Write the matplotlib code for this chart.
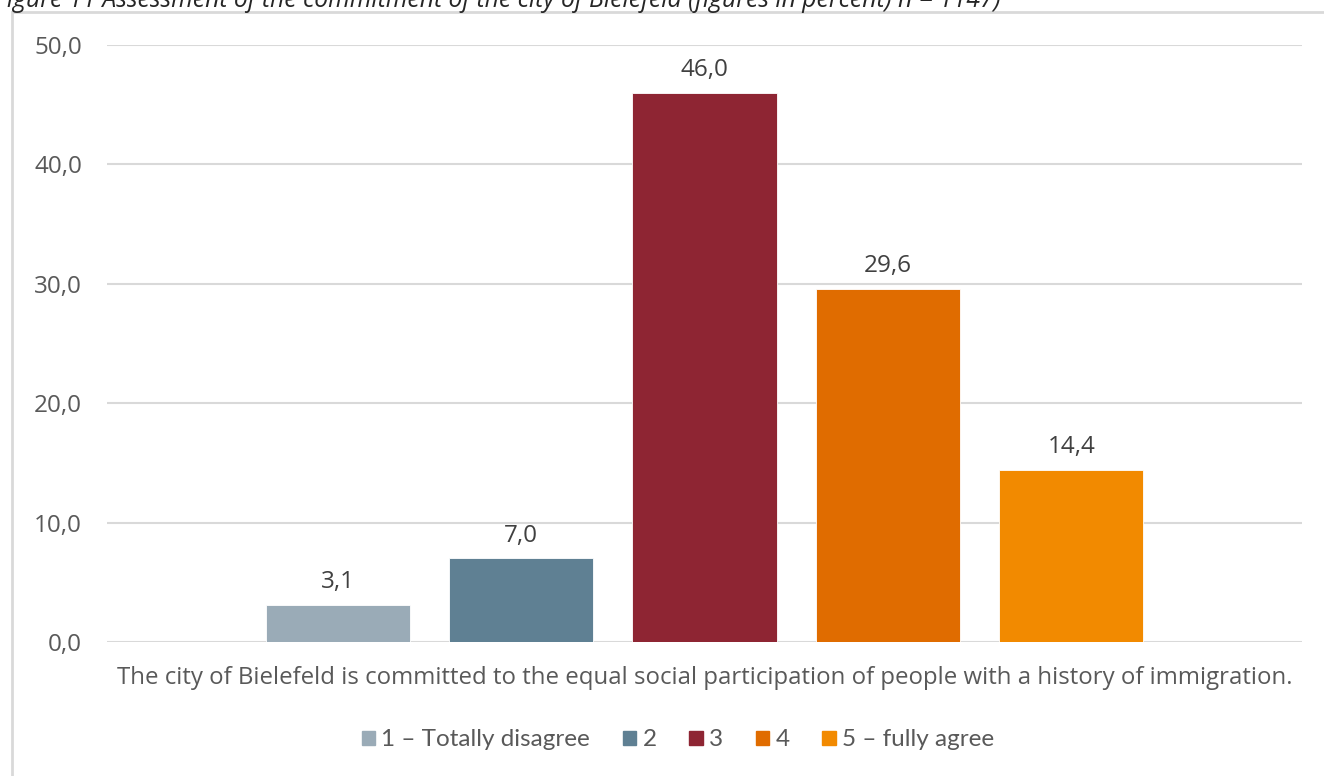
import matplotlib.pyplot as plt
from matplotlib.patches import Rectangle

categories = ['1 – Totally disagree', '2', '3', '4', '5 – fully agree']
values = [3.1, 7.0, 46.0, 29.6, 14.4]
colors = ['#9aabb7', '#5f8093', '#8e2533', '#e06c00', '#f28a00']
yticks = [0, 10, 20, 30, 40, 50]
statement = ('The city of Bielefeld is committed to the equal social '
             'participation of people with a history of immigration.')
caption = ('Figure 11 Assessment of the commitment of the city of Bielefeld '
           '(figures in percent) n = 1147)')

plt.rcParams['font.family'] = ['Open Sans', 'DejaVu Sans']
txt = '#595959'

fig = plt.figure(figsize=(13.24, 7.76), dpi=100)
W, H = 1324, 776

# chart frame
fig.patches.append(Rectangle((12 / W, -0.1), 1.2, (H - 12) / H + 0.1,
                             transform=fig.transFigure, fill=False,
                             edgecolor='#d9d9d9', linewidth=2))
fig.text(-0.004, (H - 7) / H, caption, ha='left', va='baseline',
         style='italic', fontsize=17.8, color='#262626')

ax = fig.add_axes([107 / W, 134 / H, (1302 - 107) / W, (642 - 45) / H])
x = list(range(len(values)))
bars = ax.bar(x, values, width=0.785, color=colors, edgecolor='white',
              linewidth=0.6, zorder=3, label=categories)
for b, v in zip(bars, values):
    ax.text(b.get_x() + b.get_width() / 2, v + 0.9, f'{v:.1f}'.replace('.', ','),
            ha='center', va='bottom', fontsize=17.5, color='#404040')

ax.set_xlim(-1.257, 4 + 1.257)
ax.set_ylim(0, 50)
ax.set_yticks(yticks)
ax.set_yticklabels([f'{t:.1f}'.replace('.', ',') for t in yticks])
ax.grid(axis='y', color='#d9d9d9', linewidth=1.5, zorder=0)
ax.set_xticks([])
for s in ax.spines.values():
    s.set_visible(False)
ax.tick_params(axis='y', length=0, pad=18, labelsize=17.5, labelcolor=txt)

fig.text((107 + 1302) / 2 / W, (H - 678) / H, statement, ha='center',
         va='center', fontsize=17.3, color=txt)

handles = [Rectangle((0, 0), 1, 1, color=c) for c in colors]
fig.legend(handles, categories, loc='center', bbox_to_anchor=(0.512, (H - 740) / H),
           ncol=5, frameon=False, labelcolor=txt,
           prop={'family': ['Lato', 'DejaVu Sans'], 'size': 17.5},
           handlelength=0.55, handleheight=0.55, handletextpad=0.25,
           columnspacing=1.35)

fig.savefig('out.png', dpi=100, facecolor='white')
